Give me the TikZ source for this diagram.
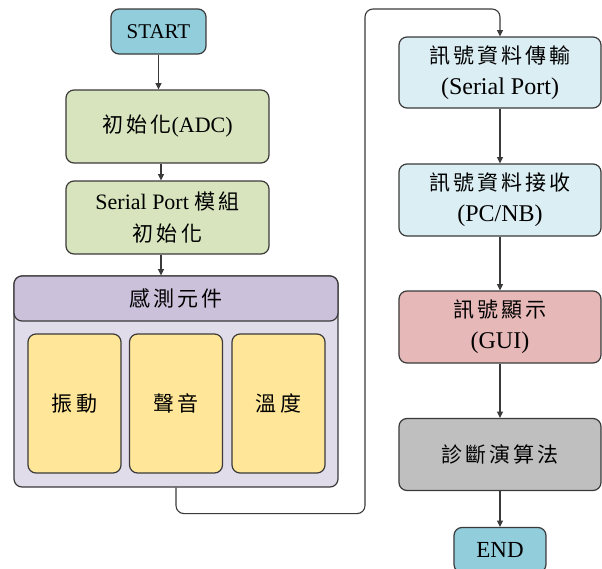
\documentclass[tikz,border=0pt]{standalone}
\usepackage{fontspec}
\setmainfont{Liberation Serif}
\newfontfamily\cjk[LetterSpace=15]{Noto Sans CJK TC}
\newcommand\zh[1]{{\cjk\fontsize{10.5}{14}\selectfont #1}}
\usetikzlibrary{arrows.meta, positioning}

\definecolor{startblue}{HTML}{92CDDC}
\definecolor{initgreen}{HTML}{D7E4BD}
\definecolor{senshead}{HTML}{CCC1DA}
\definecolor{sensbody}{HTML}{E1DCEA}
\definecolor{sensyellow}{HTML}{FFE699}
\definecolor{sigblue}{HTML}{DBEEF4}
\definecolor{guired}{HTML}{E6B9B8}
\definecolor{diaggray}{HTML}{BFBFBF}
\definecolor{edgegray}{HTML}{3A3A3A}

\begin{document}
\begin{tikzpicture}[x=0.5pt, y=-0.5pt,
  box/.style={draw=edgegray, line width=0.6pt, rounded corners=4pt, align=center,
    inner sep=1pt, font=\fontsize{11}{16}\selectfont},
  rbox/.style={box, minimum width=101pt, minimum height=36pt, font=\fontsize{12}{15.5}\selectfont},
  sbox/.style={box, fill=sensyellow, minimum width=46.5pt, minimum height=69.5pt},
  arr/.style={draw=edgegray, line width=0.55pt, -{Triangle[length=3.2pt, width=3pt]}}]
  \useasboundingbox (0,0) rectangle (602,569);
  % left column
  \node[box, fill=startblue, minimum width=47.5pt, minimum height=22.5pt, font=\fontsize{10.5}{14}\selectfont] (start) at (158.5,31.5) {START};
  \node[box, fill=initgreen, minimum width=101.5pt, minimum height=36.5pt] (init) at (167.5,126.5) {\zh{初始化}(ADC)};
  \node[box, fill=initgreen, minimum width=101.5pt, minimum height=36.5pt] (serinit) at (167.5,217.5) {Serial Port \zh{模組}\\\zh{初始化}};
  % sensor group
  \node[box, fill=sensbody, minimum width=162pt, minimum height=105.5pt] (sens) at (176,381.5) {};
  \node[box, fill=senshead, minimum width=162pt, minimum height=22.5pt] (senshd) at (176,298.5) {\zh{感測元件}};
  \node[sbox] (vib) at (74.5,403.5) {\zh{振動}};
  \node[sbox] (sound) at (176,403.5) {\zh{聲音}};
  \node[sbox] (temp) at (278.5,403.5) {\zh{溫度}};
  % right column
  \node[rbox, fill=sigblue, minimum height=35.5pt] (tx) at (500,72.5) {\zh{訊號資料傳輸}\\(Serial Port)};
  \node[rbox, fill=sigblue] (rx) at (500,200) {\zh{訊號資料接收}\\(PC/NB)};
  \node[rbox, fill=guired] (gui) at (500,327) {\zh{訊號顯示}\\(GUI)};
  \node[rbox, fill=diaggray] (diag) at (500,454.5) {\zh{診斷演算法}};
  \node[box, fill=startblue, minimum width=46pt, minimum height=22.5pt, font=\fontsize{11.5}{14}\selectfont] (end) at (500,550) {END};
  % connectors
  \coordinate (spine) at (161,0);
  \coordinate (turn) at (365,9);
  \draw[arr] (start.south) -- (start.south |- init.north);
  \draw[arr] (spine |- init.south) -- (spine |- serinit.north);
  \draw[arr] (spine |- serinit.south) -- (spine |- senshd.north);
  \draw[arr, rounded corners=4pt] (sens.south) -- ++(0,26) -| (turn) -| (tx.north);
  \draw[arr] (tx) -- (rx);
  \draw[arr] (rx) -- (gui);
  \draw[arr] (gui) -- (diag);
  \draw[arr] (diag) -- (end);
\end{tikzpicture}
\end{document}
